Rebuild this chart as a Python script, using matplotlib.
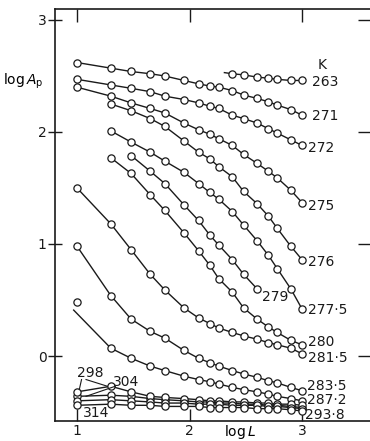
import matplotlib
matplotlib.use("Agg")
import matplotlib.pyplot as plt

# ---------------- data ----------------
log_L = [1.0, 1.30, 1.48, 1.65, 1.78, 1.95, 2.08, 2.18, 2.26, 2.38, 2.48, 2.60, 2.70, 2.78, 2.90, 3.0]

# temperature labels (K)
temps = ["263", "271", "272", "275", "276", "277·5", "279", "280", "281·5",
         "283·5", "287·2", "293·8", "298", "304", "314"]

# start index into log_L for each curve, and log A_p values
A_263 = [2.52, 2.51, 2.49, 2.48, 2.47, 2.46, 2.46]                       # from idx 9
A_271 = [2.62, 2.57, 2.54, 2.52, 2.50, 2.46, 2.43, 2.41, 2.40, 2.37, 2.33, 2.30, 2.27, 2.24, 2.20, 2.15]
A_272 = [2.47, 2.42, 2.39, 2.36, 2.32, 2.29, 2.26, 2.23, 2.21, 2.15, 2.12, 2.08, 2.03, 1.99, 1.93, 1.88]
A_275 = [2.40, 2.32, 2.26, 2.21, 2.17, 2.08, 2.02, 1.98, 1.94, 1.88, 1.80, 1.72, 1.65, 1.59, 1.48, 1.37]
A_276 = [2.25, 2.19, 2.12, 2.05, 1.92, 1.82, 1.76, 1.69, 1.60, 1.47, 1.36, 1.25, 1.14, 0.98, 0.86]          # from idx 1
A_2775 = [2.01, 1.91, 1.82, 1.74, 1.64, 1.54, 1.46, 1.40, 1.29, 1.17, 1.03, 0.90, 0.78, 0.60, 0.42]         # from idx 1
A_279 = [1.79, 1.65, 1.54, 1.35, 1.21, 1.08, 0.99, 0.86, 0.73, 0.60]                                         # from idx 2
A_280 = [1.77, 1.63, 1.44, 1.30, 1.10, 0.94, 0.81, 0.69, 0.57, 0.43, 0.33, 0.26, 0.21, 0.14, 0.10]          # from idx 1
A_2815 = [1.50, 1.18, 0.95, 0.73, 0.59, 0.43, 0.34, 0.29, 0.25, 0.21, 0.18, 0.15, 0.12, 0.10, 0.07, 0.02]
A_2835 = [0.98, 0.54, 0.33, 0.22, 0.16, 0.05, -0.02, -0.06, -0.09, -0.13, -0.16, -0.19, -0.22, -0.24, -0.28, -0.31]
A_2872 = [0.07, -0.02, -0.09, -0.13, -0.18, -0.21, -0.23, -0.25, -0.28, -0.30, -0.32, -0.34, -0.36, -0.38, -0.40]  # from idx 1
A_2938 = [-0.36, -0.35, -0.36, -0.38, -0.39, -0.40, -0.41, -0.41, -0.42, -0.42, -0.43, -0.43, -0.44, -0.44, -0.45, -0.46]
A_298 = [-0.32, -0.27, -0.32, -0.36, -0.37, -0.38, -0.39, -0.40, -0.40, -0.41, -0.41, -0.42, -0.42, -0.43, -0.43, -0.44]
A_304 = [-0.40, -0.39, -0.40, -0.41, -0.42, -0.42, -0.43, -0.43, -0.43, -0.44, -0.44, -0.44, -0.45, -0.45, -0.46, -0.47]
A_314 = [-0.44, -0.43, -0.44, -0.44, -0.45, -0.45, -0.45, -0.46, -0.46, -0.46, -0.46, -0.47, -0.47, -0.47, -0.48, -0.49]

# extra line-only / marker-only points
stub_263 = (2.31, 2.53)        # line lead-in of 263 curve
line_start_2872 = (0.97, 0.41)  # fitted line for 287.2 starts here
lone_point_2872 = (1.0, 0.48)   # isolated measured point at log L = 1

curves = [
    (A_263, 9), (A_271, 0), (A_272, 0), (A_275, 0), (A_276, 1), (A_2775, 1),
    (A_279, 2), (A_280, 1), (A_2815, 0), (A_2835, 0), (A_2872, 1),
    (A_2938, 0), (A_298, 0), (A_304, 0), (A_314, 0),
]

# label positions (text anchor in data units)
label_pos = {
    "263": (3.09, 2.45), "271": (3.09, 2.14), "272": (3.05, 1.86), "275": (3.05, 1.34),
    "276": (3.05, 0.84), "277·5": (3.05, 0.41), "279": (2.64, 0.53), "280": (3.05, 0.125),
    "281·5": (3.05, -0.02), "283·5": (3.04, -0.27), "287·2": (3.04, -0.395),
    "293·8": (3.03, -0.53), "298": (1.0, -0.15), "304": (1.32, -0.23), "314": (1.05, -0.51),
}

# ---------------- figure ----------------
plt.rcParams['font.family'] = ['DejaVu Sans']
fig = plt.figure(figsize=(3.70, 4.41), dpi=100)
ax = fig.add_axes([0.1486, 0.0454, 0.8568, 0.9342])
ax.set_xlim(0.804, 3.622)
ax.set_ylim(-0.580, 3.098)

lc = "#1a1a1a"
mk = dict(marker="o", markersize=5.2, markerfacecolor="white",
          markeredgecolor=lc, markeredgewidth=0.9)

for vals, i0 in curves:
    xs = log_L[i0:i0 + len(vals)]
    ax.plot(xs, vals, color=lc, lw=1.0, zorder=2, **mk)

# 263 lead-in stub
ax.plot([stub_263[0], log_L[9]], [stub_263[1], A_263[0]], color=lc, lw=1.0, zorder=1)
# 287.2 line lead-in and lone point
ax.plot([line_start_2872[0], log_L[1]], [line_start_2872[1], A_2872[0]], color=lc, lw=1.0, zorder=1)
ax.plot([lone_point_2872[0]], [lone_point_2872[1]], linestyle="none", zorder=3, **mk)

fs = 10
for name, (tx, ty) in label_pos.items():
    ax.text(tx, ty, name, fontsize=fs, ha="left", va="center", color=lc)
ax.text(3.18, 2.60, "K", fontsize=fs, ha="center", va="center", color=lc)

# leader lines for the crowded low curves
ax.plot([1.04, 1.02], [-0.21, -0.30], color=lc, lw=0.8)
ax.plot([1.08, 1.27], [-0.21, -0.27], color=lc, lw=0.8)
ax.plot([1.34, 1.08], [-0.27, -0.36], color=lc, lw=0.8)

# axis labels
ax.text(0.525, 2.45, r"log$\,A_{\rm p}$", fontsize=fs, ha="center", va="center",
        clip_on=False)
ax.text(2.45, -0.675, r"log$\,L$", fontsize=fs, ha="center", va="center", clip_on=False)

ax.set_xticks([1, 2, 3])
ax.set_xticklabels(["1", "2", "3"])
ax.set_yticks([0, 1, 2, 3])
ax.set_yticklabels(["0", "1", "2", "3"])
ax.tick_params(axis="x", which="both", direction="in", length=9, width=1.0,
               top=True, bottom=True, labelsize=fs, pad=2.5, colors=lc)
ax.tick_params(axis="y", which="both", direction="inout", length=10, width=1.0,
               left=True, right=False, labelsize=fs, pad=1, colors=lc)
for side in ["left", "top", "bottom", "right"]:
    ax.spines[side].set_linewidth(1.2)
    ax.spines[side].set_color(lc)

# right-side inward ticks (right spine lies at the figure edge)
ax2 = ax.twinx()
ax2.set_ylim(ax.get_ylim())
ax2.set_yticks([0, 1, 2, 3])
ax2.tick_params(axis="y", direction="in", length=10, width=1.0, labelright=False, colors=lc)
for side in ["left", "top", "bottom", "right"]:
    ax2.spines[side].set_visible(False)

fig.savefig("out.png", dpi=100)
